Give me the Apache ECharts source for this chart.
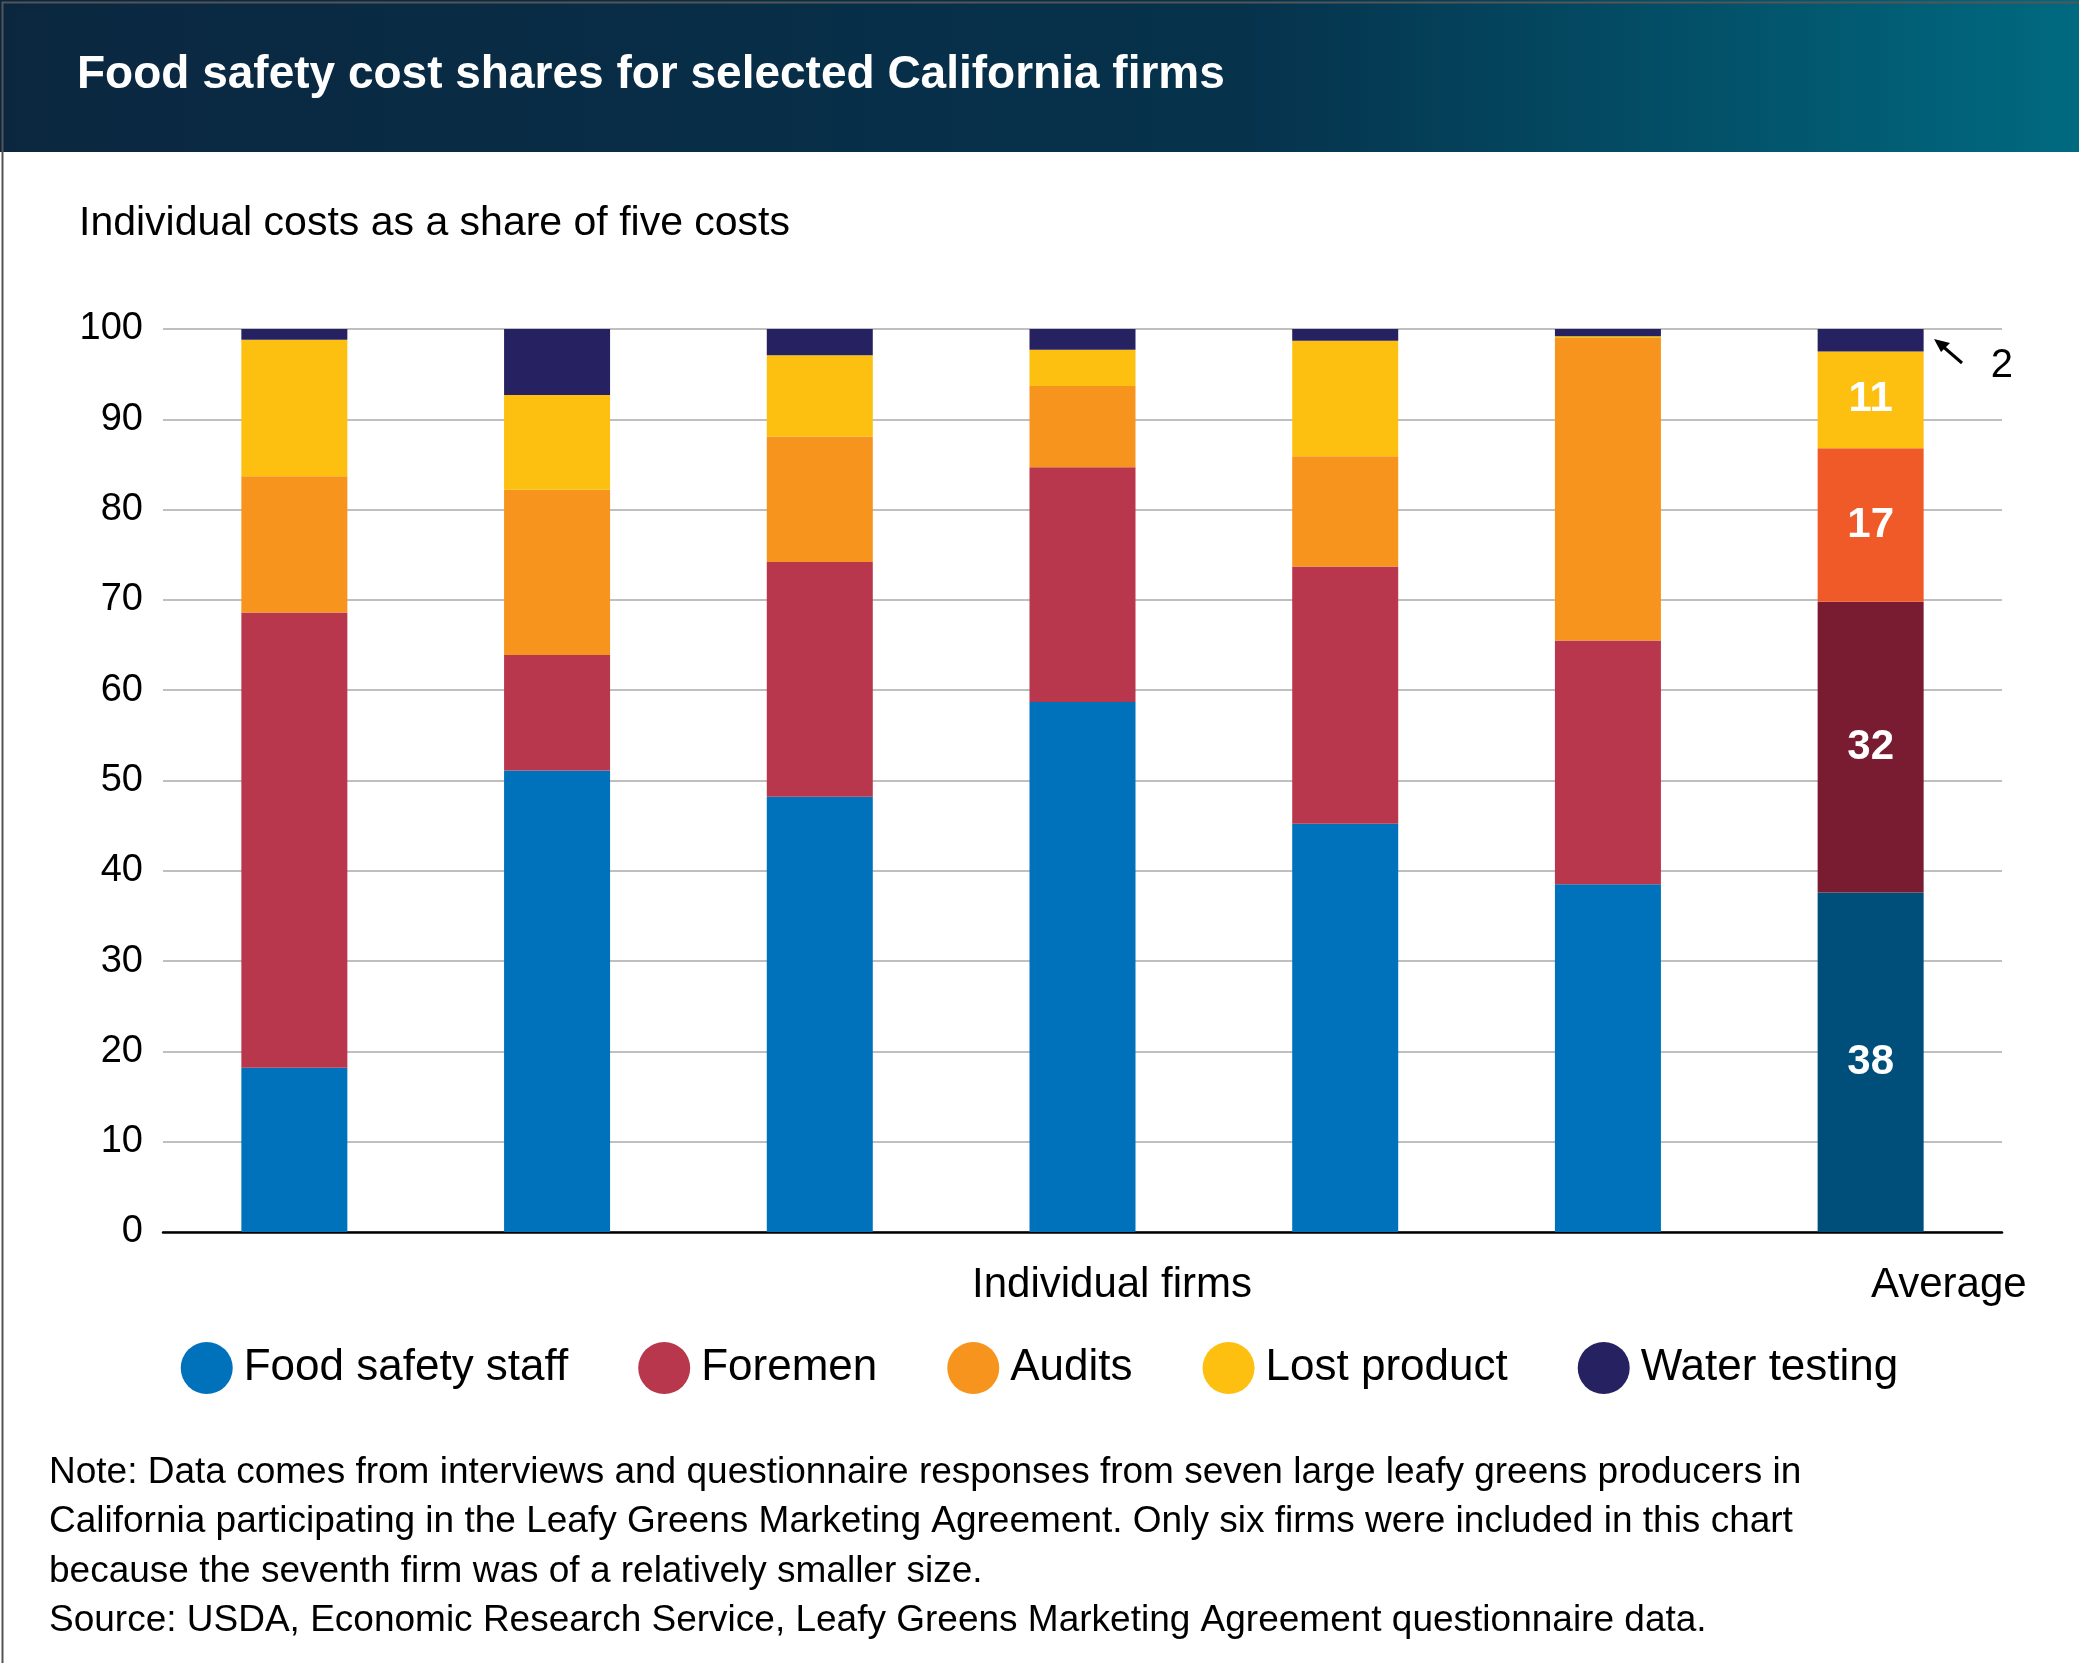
<!DOCTYPE html>
<html><head><meta charset="utf-8">
<script src="https://cdn.jsdelivr.net/npm/echarts@6/dist/echarts.min.js"></script>
<style>html,body{margin:0;padding:0;background:#fff}#c{width:2079px;height:1663px}</style>
</head><body><div id="c"></div>
<script>
const categories = ['F1','F2','F3','F4','F5','F6','Average'];
const foodSafetyStaff = [18.2, 51.1, 48.2, 58.7, 45.2, 38.5, 37.6];
const foremen        = [50.4, 12.8, 26.0, 26.0, 28.5, 27.0, 32.2];
const audits         = [15.1, 18.3, 13.9,  9.0, 12.2, 33.5, 17.0];
const lostProduct    = [15.1, 10.5,  9.0,  4.0, 12.8,  0.2, 10.7];
const waterTesting   = [ 1.2,  7.3,  2.9,  2.3,  1.3,  0.8,  2.5];
const averageLabels  = ['38','32','17','11','2'];
const yTicks = [0,10,20,30,40,50,60,70,80,90,100];

const names = ['Food safety staff','Foremen','Audits','Lost product','Water testing'];
const colors = ['#0072bc','#b8374c','#f7941d','#fdc010','#262262'];
const avgColors = ['#004f7a','#7a1c31','#f05a28','#fdc010','#262262'];
const values = [foodSafetyStaff, foremen, audits, lostProduct, waterTesting];
const F = '"Liberation Sans", Arial, Helvetica, sans-serif';

const series = values.map((arr, si) => ({
  name: names[si], type: 'bar', stack: 'all', barWidth: 106,
  itemStyle: { color: colors[si] },
  data: arr.map((v, i) => {
    if (i !== arr.length - 1) return v;
    const d = { value: v, itemStyle: { color: avgColors[si] } };
    if (si < 4) d.label = { show: true, position: 'inside', formatter: averageLabels[si], color: '#fff', fontWeight: 'bold', fontSize: 42, fontFamily: F };
    else d.label = { show: true, position: 'right', offset: [62, 26], formatter: averageLabels[si], color: '#000', fontSize: 40, fontFamily: F };
    return d;
  })
}));

const chart = echarts.init(document.getElementById('c'));
chart.setOption({
  backgroundColor: '#fff',
  animation: false,
  grid: { left: 163, right: 77, top: 329, bottom: 431, containLabel: false },
  xAxis: { type: 'category', data: categories, axisTick: { show: false },
    axisLine: { lineStyle: { color: '#000', width: 2.5 } }, axisLabel: { show: false } },
  yAxis: { type: 'value', min: 0, max: 100, interval: 10,
    axisLine: { show: false }, axisTick: { show: false },
    axisLabel: { color: '#000', fontSize: 38, fontFamily: F, margin: 20, formatter: v => yTicks.includes(v) ? String(v) : '' },
    splitLine: { lineStyle: { color: '#aaa', width: 1.5 } } },
  legend: { bottom: 264, left: 'center', itemWidth: 52, itemHeight: 52, itemGap: 70, icon: 'circle',
    textStyle: { fontSize: 44, fontFamily: F, color: '#000', padding: [0, 0, 0, 6] }, data: names },
  series,
  graphic: [
    { type: 'rect', left: 0, top: 0, shape: { width: 2079, height: 152 },
      style: { fill: new echarts.graphic.LinearGradient(0, 0, 1, 0, [{ offset: 0, color: '#0b2740' }, { offset: 0.6, color: '#06324c' }, { offset: 1, color: '#006a80' }]) } },
    { type: 'text', left: 77, top: 52, style: { text: 'Food safety cost shares for selected California firms', fill: '#fff', font: 'bold 46px ' + F } },
    { type: 'text', left: 79, top: 203, style: { text: 'Individual costs as a share of five costs', fill: '#000', font: '41px ' + F } },
    { type: 'text', left: 972, top: 1264, style: { text: 'Individual firms', fill: '#000', font: '42px ' + F, textAlign: 'center' } },
    { type: 'text', left: 1871, top: 1264, style: { text: 'Average', fill: '#000', font: '42px ' + F, textAlign: 'center' } },
    { type: 'line', shape: { x1: 1962, y1: 363, x2: 1940, y2: 344 }, style: { stroke: '#000', lineWidth: 3 } },
    { type: 'polygon', shape: { points: [[1934, 339], [1950, 343], [1941, 352]] }, style: { fill: '#000' } },
    { type: 'text', left: 49, top: 1448, style: { text: 'Note: Data comes from interviews and questionnaire responses from seven large leafy greens producers in\nCalifornia participating in the Leafy Greens Marketing Agreement. Only six firms were included in this chart\nbecause the seventh firm was of a relatively smaller size.\nSource: USDA, Economic Research Service, Leafy Greens Marketing Agreement questionnaire data.', fill: '#000', font: '37px ' + F, lineHeight: 49.5 } },
    { type: 'rect', left: 0, top: 0, shape: { width: 2078, height: 1662 }, style: { fill: 'none', stroke: '#555', lineWidth: 2 } }
  ]
});
</script></body></html>
